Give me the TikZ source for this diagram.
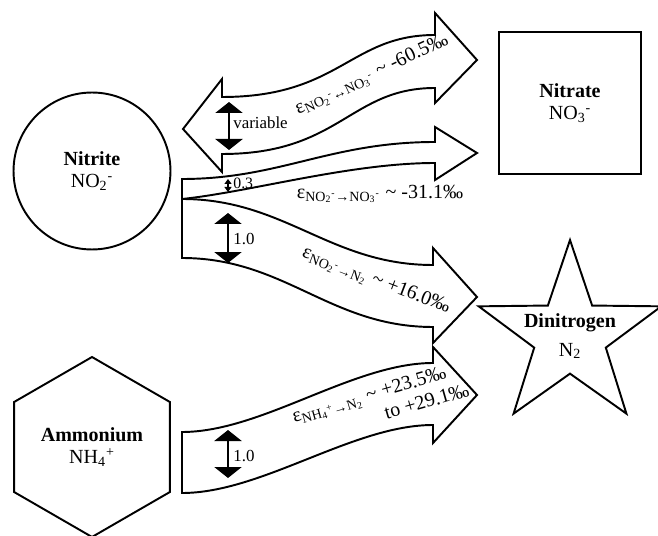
\documentclass[tikz,border=0pt]{standalone}
\usepackage{fontspec}
\setmainfont{Liberation Serif}
\usetikzlibrary{arrows.meta,shapes.geometric}

\tikzset{
  species/.style={draw, line width=1.1pt, align=center, inner sep=1pt, font=\fontsize{11.4}{12.5}\selectfont},
  band/.style={draw, line width=1.1pt, fill=white, line join=miter},
  ratiobar/.style={line width=1.7pt, {Triangle[width=0.54cm,length=0.22cm]}-{Triangle[width=0.54cm,length=0.22cm]}},
  thinratio/.style={line width=0.7pt, {Triangle[width=0.14cm,length=0.1cm]}-{Triangle[width=0.14cm,length=0.1cm]}},
  ratiolabel/.style={anchor=west, inner sep=0pt, font=\fontsize{9.6}{11}\selectfont},
  epslabel/.style={inner sep=0pt, align=right, font=\fontsize{11.4}{13}\selectfont}
}

\begin{document}
\begin{tikzpicture}[x=0.02cm, y=-0.02cm]
  %%%%% START %%%%%
  \useasboundingbox (0,0) rectangle (658,536);

  % species
  \node[species, circle, minimum size=3.14cm] (nitrite) at (92,171) {\textbf{Nitrite}\\NO\textsubscript{2}\textsuperscript{-}};
  \node[species, rectangle, minimum size=2.83cm] (nitrate) at (570,103) {\textbf{Nitrate}\\NO\textsubscript{3}\textsuperscript{-}};
  \node[species, regular polygon, regular polygon sides=6, shape border rotate=30, minimum size=3.6cm] (ammonium) at (92,447) {\textbf{Ammonium}\\NH\textsubscript{4}\textsuperscript{+}};
  \node[species, star, star points=5, star point ratio=2.55, minimum size=3.84cm] (n2star) at (570,336) {};
  \node[species, draw=none] (dinitrogen) at (n2star) {\textbf{Dinitrogen}\\[4pt]N\textsubscript{2}};

  % fat arrows
  \draw[band] (183,129) -- (222,79) -- (222,97) .. controls (340,97) and (350,35) .. (435,35) -- (435,13) -- (477,60) -- (435,103) -- (435,88) .. controls (350,88) and (340,154) .. (222,154) -- (222,172) -- cycle;
  \draw[band] (182,179) .. controls (280,179) and (330,142) .. (435,142) -- (435,127) -- (477,153) -- (435,180) -- (435,163) .. controls (350,163) and (250,192) .. (182,199) -- cycle;
  \draw[band] (182,199) .. controls (285,199) and (330,265) .. (433,265) -- (433,248) -- (477,297) -- (433,343) -- (433,327) .. controls (330,327) and (285,258) .. (182,258) -- cycle;
  \draw[band] (182,432) .. controls (262,432) and (353,363) .. (433,363) -- (433,347) -- (477,395) -- (433,443) -- (433,425) .. controls (353,425) and (262,493) .. (182,493) -- cycle;

  % flux ratios
  \draw[ratiobar] (229,102) -- (229,150);
  \node[ratiolabel] (variable) at (233,123) {variable};
  \draw[thinratio] (228,179) -- (228,192);
  \node[ratiolabel, font=\fontsize{9}{11}\selectfont] (ratiothree) at (233,183) {0.3};
  \draw[ratiobar] (228,213) -- (228,263);
  \node[ratiolabel] (ratiodenit) at (233,239) {1.0};
  \draw[ratiobar] (228,430) -- (228,478);
  \node[ratiolabel] (ratioanammox) at (233,456) {1.0};

  % fractionation factors
  \node[epslabel, rotate=25] (epsexch) at (372,75) {ε\textsubscript{NO\textsubscript{2}\textsuperscript{-}↔NO\textsubscript{3}\textsuperscript{-}} \textasciitilde{} -60.5‰};
  \node[epslabel] (epsnitrate) at (380,194) {ε\textsubscript{NO\textsubscript{2}\textsuperscript{-}→NO\textsubscript{3}\textsuperscript{-}} \textasciitilde{} -31.1‰};
  \node[epslabel, rotate=-21] (epsdenit) at (376,281) {ε\textsubscript{NO\textsubscript{2}\textsuperscript{-}→N\textsubscript{2}} \textasciitilde{} +16.0‰};
  \node[epslabel, rotate=16] (epsanammox) at (372,405) {ε\textsubscript{NH\textsubscript{4}\textsuperscript{+}→N\textsubscript{2}} \textasciitilde{} +23.5‰\\to +29.1‰\hspace*{-10pt}};
  %%%%% END %%%%%
\end{tikzpicture}
\end{document}
